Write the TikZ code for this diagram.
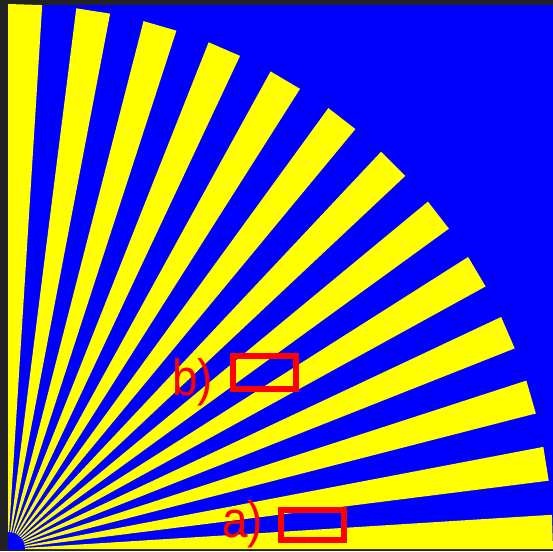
\documentclass[tikz,border=0pt]{standalone}
\usepackage{fontspec}
\setmainfont{Liberation Sans}
\usetikzlibrary{calc}
\definecolor{frame}{HTML}{222222}
\definecolor{starblue}{HTML}{0000FF}
\definecolor{staryellow}{HTML}{FFFF00}
\definecolor{markred}{HTML}{FF0000}
\tikzset{
  markbox/.style={draw=markred, line width=5.5pt, inner sep=0pt, minimum width=63pt, minimum height=32pt},
  marklabel/.style={text=markred, inner sep=0pt, anchor=base west, font=\fontsize{51}{51}\selectfont},
}
\newcommand{\narrowtext}[1]{\scalebox{0.9}[1]{#1}}
\begin{document}
\begin{tikzpicture}[x=1pt,y=1pt]
  \useasboundingbox (0,0) rectangle (553,551);
  \fill[frame] (0,0) rectangle (553,551);
  \coordinate (O) at (8,2);
  \begin{scope}
    \clip (8,2) rectangle (553,546);
    \fill[starblue] (8,2) rectangle (553,546);
    \foreach \k in {0,...,12} {
      \pgfmathsetmacro{\ta}{90-7.2*\k}
      \pgfmathsetmacro{\tb}{86.4-7.2*\k}
      \fill[staryellow] (O) -- ($(O)+(\ta:545)$) -- ($(O)+(\tb:545)$) -- cycle;
    }
    \fill[starblue] (O) circle (17);
  \end{scope}
  \node[markbox, minimum height=33pt] (boxb) at (264.5,178.5) {};
  \node[markbox, minimum height=30pt] (boxa) at (312.5,26) {};
  \node[marklabel] (labb) at (172,155) {\narrowtext{b)}};
  \node[marklabel] (laba) at (222,14) {\narrowtext{a)}};
\end{tikzpicture}
\end{document}
